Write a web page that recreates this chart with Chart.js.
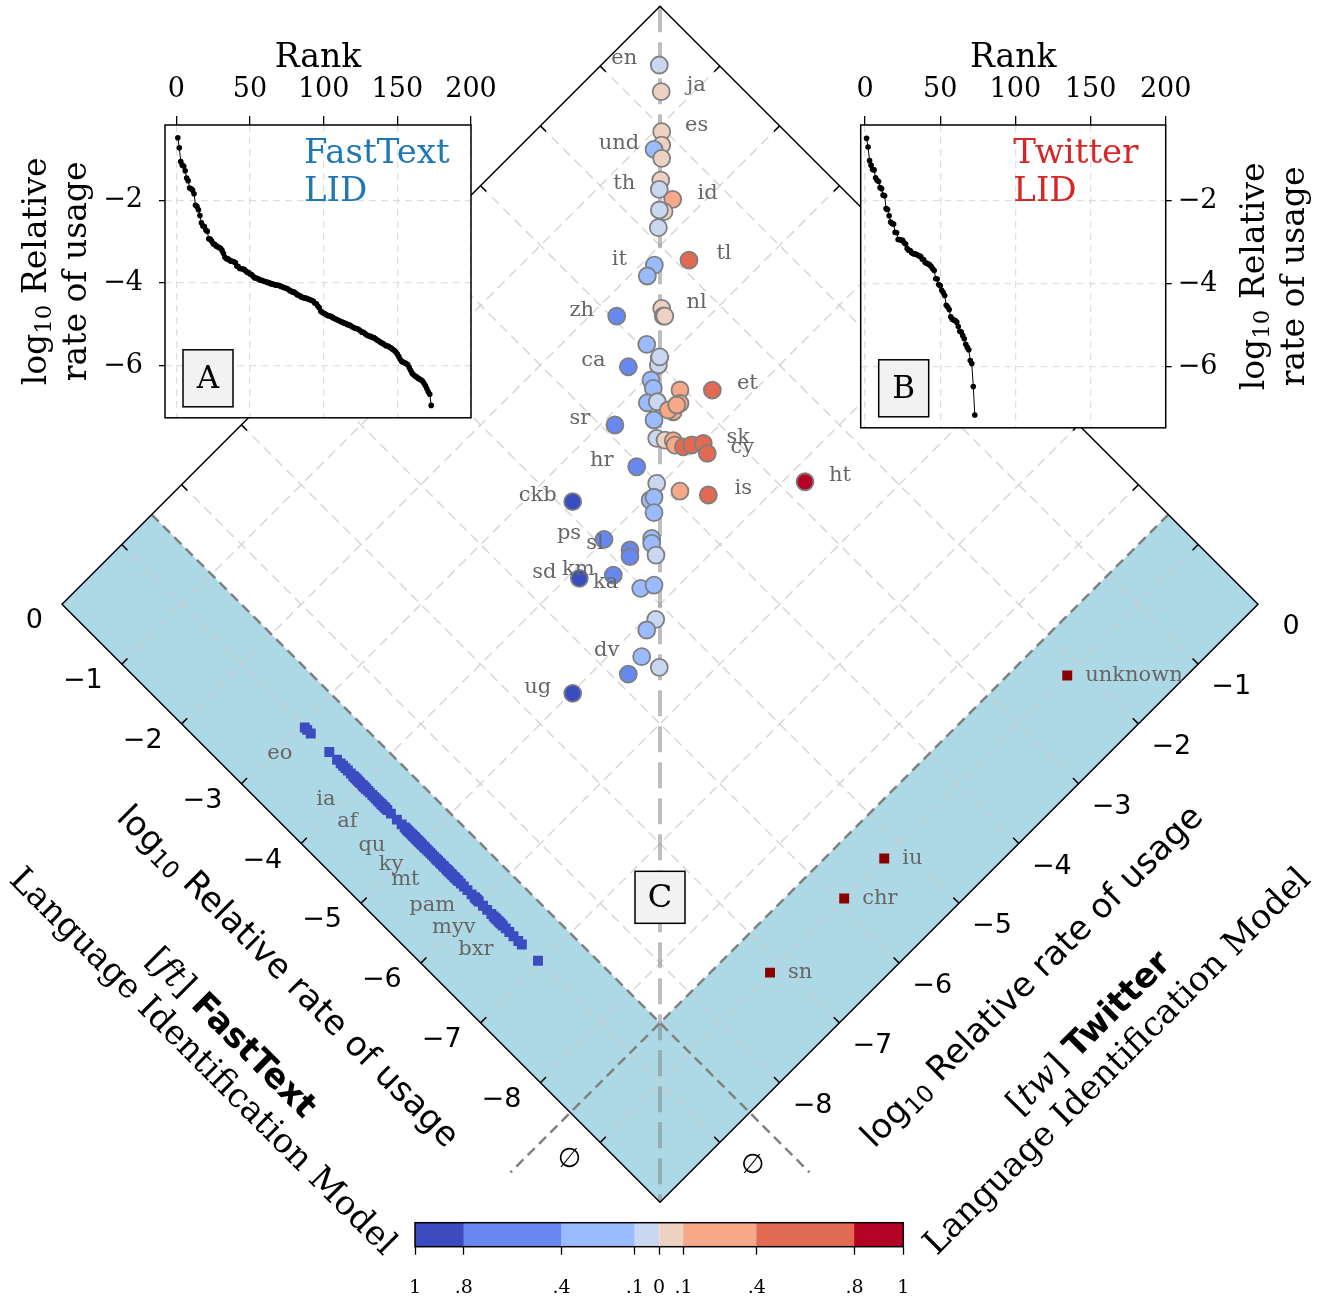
<!DOCTYPE html>
<html>
<head>
<meta charset="utf-8">
<title>FastText vs Twitter language identification</title>
<script src="https://cdn.jsdelivr.net/npm/chart.js@4.4.1/dist/chart.umd.min.js"></script>
<style>
  body { margin: 0; background: #fff; }
  #wrap { position: relative; width: 1328px; height: 1300px; overflow: hidden; }
  #wrap canvas { position: absolute; }
</style>
</head>
<body>
<div id="wrap">
  <canvas id="mainChart" width="1328" height="1300" style="left:0px;top:0px"></canvas>
  <canvas id="insetA" width="510" height="450" style="left:0px;top:0px"></canvas>
  <canvas id="insetB" width="488" height="450" style="left:840px;top:0px"></canvas>
  <canvas id="colorbar" width="560" height="90" style="left:380px;top:1210px"></canvas>
</div>
<script>
// log10 relative rate of usage

// languages reported by both models
const sharedCodes = ['en','ja','es','','und','','','th','id','','','',
  'it','','tl','zh','nl','','','','','','','ca',
  'et','','','','','','','','','','sr','',
  '','','','','','','sk','cy','hr','ht','','',
  'is','ckb','','','','ps','','','sl','','',
  'sd','km','ka','','','','dv','','','ug'];
const sharedFt = [-0.485,-0.724,-1.062,-1.174,-1.146,-1.285,-1.459,-1.524,-1.720,-1.751,-1.698,-1.837,
  -2.116,-2.149,-2.364,-2.228,-2.539,-2.617,-2.630,-2.715,-2.937,-2.985,-2.928,-2.749,
  -3.646,-3.375,-3.049,-3.138,-3.209,-3.284,-3.501,-3.487,-3.445,-3.473,-3.124,-3.409,
  -3.585,-3.669,-3.743,-3.794,-3.878,-3.933,-4.016,-4.133,-3.655,-5.188,-3.961,-4.220,
  -4.490,-3.412,-4.045,-4.055,-4.184,-3.989,-4.379,-4.421,-4.295,-4.351,-4.555,
  -4.108,-4.365,-4.705,-4.789,-5.090,-5.104,-5.285,-5.521,-5.318,-5.014];
const sharedTw = [-0.497,-0.704,-1.034,-1.146,-1.246,-1.257,-1.447,-1.536,-1.508,-1.684,-1.708,-1.865,
  -2.211,-2.361,-1.879,-2.952,-2.511,-2.562,-2.550,-2.937,-2.949,-3.013,-2.933,-3.279,
  -2.771,-3.041,-3.200,-3.250,-3.421,-3.329,-3.279,-3.152,-3.306,-3.194,-3.878,-3.509,
  -3.640,-3.584,-3.521,-3.543,-3.488,-3.403,-3.292,-3.342,-4.045,-2.763,-4.016,-3.886,
  -3.682,-4.872,-4.211,-4.155,-4.284,-4.925,-4.518,-4.560,-4.797,-4.853,-4.622,
  -5.457,-5.146,-5.028,-4.889,-5.161,-5.326,-5.591,-5.533,-5.848,-6.474];

// languages only FastText reports
const ftOnlyFt = [-3.06,-3.10,-3.16,-3.47,-3.60,
  -3.66,-3.70,-3.74,-3.78,-3.83,
  -3.87,-3.89,-3.91,-3.93,-3.95,-3.97,
  -3.99,-4.02,-4.03,-4.05,-4.06,-4.08,-4.09,
  -4.12,-4.15,-4.19,-4.22,-4.25,-4.28,-4.31,
  -4.34,-4.36,-4.39,-4.41,-4.44,
  -4.50,-4.60,-4.68,
  -4.73,-4.75,-4.77,-4.79,-4.81,-4.83,-4.85,-4.87,
  -4.89,-4.90,-4.92,-4.94,-4.95,-4.97,-4.98,-5.00,-5.02,
  -5.05,-5.07,-5.10,-5.13,-5.16,-5.19,-5.22,-5.25,
  -5.27,-5.29,-5.32,-5.34,-5.37,-5.39,-5.42,-5.44,-5.46,-5.48,
  -5.51,-5.53,-5.56,-5.58,-5.61,-5.63,
  -5.67,-5.72,-5.78,-5.85,
  -5.90,-5.91,-5.93,-5.95,
  -5.97,-6.04,-6.11,-6.18,
  -6.22,-6.25,-6.27,-6.30,-6.32,-6.34,
  -6.37,-6.42,-6.48,-6.55,
  -6.63,-6.69,-6.96];
const ftOnlyLabelCodes = ['eo','ia','af','qu','ky','mt','pam','myv','bxr'];
const ftOnlyLabelFt = [-3.06,-3.83,-4.19,-4.60,-4.92,-5.16,-5.61,-5.97,-6.34];

// languages only Twitter reports
const twOnlyCodes = ['unknown','iu','chr','sn'];
const twOnlyTw = [-2.19,-5.25,-5.92,-7.16];

// axes
const diamondTicks = [0,-1,-2,-3,-4,-5,-6,-7,-8,-9];
const colorbarTicks = [-1,-0.8,-0.4,-0.1,0,0.1,0.4,0.8,1];
const colorbarColors = ['#3b4cc0','#6788ee','#9abbff','#c9d7f0','#edd1c2','#f7a889','#e26952','#b40426'];

const LOW = -10;    // edge of the diamond
const CUT = -8.5;   // edge of the "not reported" band
const EMPTY = -9;   // where a missing rate is placed
const SERIF = 'DejaVu Serif';
const SANS = 'DejaVu Sans';

function minusText(v) { return v < 0 ? '\u2212' + Math.abs(v) : String(v); }
function divergence(ft, tw) { return Math.tanh((tw - ft) * Math.LN10 / 2); }
function binColor(m) {
  for (let i = 0; i < colorbarColors.length; i++) {
    if (m <= colorbarTicks[i + 1]) return colorbarColors[i];
  }
  return colorbarColors[colorbarColors.length - 1];
}

// the diamond is the (ft, tw) plane turned by 45 degrees
function pos(chart, ft, tw) {
  return [chart.scales.x.getPixelForValue(tw - ft), chart.scales.y.getPixelForValue(ft + tw)];
}
function seg(ctx, a, b) { ctx.beginPath(); ctx.moveTo(a[0], a[1]); ctx.lineTo(b[0], b[1]); ctx.stroke(); }
function poly(ctx, pts) {
  ctx.beginPath();
  pts.forEach((p, i) => i ? ctx.lineTo(p[0], p[1]) : ctx.moveTo(p[0], p[1]));
  ctx.closePath();
}
function unit(a, b) {
  const dx = b[0] - a[0], dy = b[1] - a[1], l = Math.hypot(dx, dy);
  return [dx / l, dy / l];
}
function drawRuns(ctx, runs, cx, cy, angle) {
  ctx.save();
  ctx.translate(cx, cy);
  ctx.rotate(angle);
  ctx.textAlign = 'left';
  ctx.textBaseline = 'middle';
  let w = 0;
  runs.forEach(r => { ctx.font = r.f; w += ctx.measureText(r.t).width; });
  let x = -w / 2;
  runs.forEach(r => { ctx.font = r.f; ctx.fillText(r.t, x, r.dy || 0); x += ctx.measureText(r.t).width; });
  ctx.restore();
}

const diamondPlugin = {
  id: 'diamond',
  beforeDatasetsDraw(chart) {
    const ctx = chart.ctx;
    const P = (ft, tw) => pos(chart, ft, tw);
    ctx.save();

    // bands where one model has no rate
    ctx.fillStyle = '#add8e6';
    poly(ctx, [P(0, LOW), P(0, CUT), P(LOW, CUT), P(LOW, LOW)]); ctx.fill();
    poly(ctx, [P(LOW, 0), P(CUT, 0), P(CUT, LOW), P(LOW, LOW)]); ctx.fill();

    // grid
    ctx.strokeStyle = 'rgba(205,205,205,0.8)';
    ctx.lineWidth = 1.5;
    ctx.setLineDash([10, 6]);
    for (let v = -1; v >= -9; v--) {
      seg(ctx, P(v, 0), P(v, LOW));
      seg(ctx, P(0, v), P(LOW, v));
    }

    // band boundaries
    ctx.strokeStyle = '#808080';
    ctx.lineWidth = 2.5;
    ctx.setLineDash([10, 6]);
    seg(ctx, P(0, CUT), P(-11, CUT));
    seg(ctx, P(CUT, 0), P(CUT, -11));

    // equal-rate diagonal
    ctx.strokeStyle = 'rgba(128,128,128,0.5)';
    ctx.lineWidth = 4;
    ctx.setLineDash([26, 10]);
    seg(ctx, P(0, 0), P(LOW, LOW));

    // frame and ticks
    ctx.setLineDash([]);
    ctx.strokeStyle = '#000';
    ctx.lineWidth = 1.5;
    poly(ctx, [P(0, 0), P(0, LOW), P(LOW, LOW), P(LOW, 0)]);
    ctx.stroke();
    diamondTicks.forEach(v => {
      if (v === 0) return;
      [[P(v, LOW), P(v, LOW + 1)], [P(0, v), P(-1, v)], [P(LOW, v), P(LOW + 1, v)], [P(v, 0), P(v, -1)]]
        .forEach(([a, b]) => {
          const u = unit(a, b);
          seg(ctx, a, [a[0] + u[0] * 8, a[1] + u[1] * 8]);
        });
    });

    ctx.fillStyle = '#000';
    ctx.font = '27px ' + SANS;
    ctx.textBaseline = 'middle';
    diamondTicks.forEach(v => {
      const txt = v === EMPTY ? '\u2205' : minusText(v);
      let a = P(v, LOW);
      ctx.textAlign = 'right';
      ctx.fillText(txt, a[0] - 19, a[1] + 17);
      a = P(LOW, v);
      ctx.textAlign = 'center';
      ctx.fillText(txt, a[0] + 33, a[1] + 23);
    });

    // axis titles
    const titles = (name, tag) => [
      [[{t: 'log', f: '34px ' + SANS}, {t: '10', f: '24px ' + SANS, dy: 8}, {t: ' Relative rate of usage', f: '34px ' + SANS}], 105],
      [[{t: '[', f: '34px ' + SERIF}, {t: tag, f: 'italic 34px ' + SERIF}, {t: '] ', f: '34px ' + SERIF}, {t: name, f: 'bold 34px ' + SANS}], 185],
      [[{t: 'Language Identification Model', f: '34px ' + SERIF}], 225]
    ];
    let a = P(-5, LOW), n = unit(P(-5, LOW + 1), a);
    titles('FastText', 'ft').forEach(([runs, d]) => drawRuns(ctx, runs, a[0] + n[0] * d, a[1] + n[1] * d, Math.PI / 4));
    a = P(LOW, -5); n = unit(P(LOW + 1, -5), a);
    titles('Twitter', 'tw').forEach(([runs, d]) => drawRuns(ctx, runs, a[0] + n[0] * d, a[1] + n[1] * d, -Math.PI / 4));

    ctx.restore();
  },
  afterDatasetsDraw(chart) {
    const ctx = chart.ctx;
    ctx.save();
    ctx.fillStyle = '#666';
    ctx.font = '21px ' + SERIF;
    ctx.textBaseline = 'middle';
    ctx.textAlign = 'center';

    const shared = chart.getDatasetMeta(0).data;
    sharedCodes.forEach((code, i) => {
      if (!code) return;
      const p = shared[i];
      const right = sharedTw[i] > sharedFt[i];
      ctx.fillText(code, p.x + (right ? 35 : -35), p.y - 6);
    });

    const ftOnly = chart.getDatasetMeta(1).data;
    ftOnlyLabelCodes.forEach((code, i) => {
      const p = ftOnly[ftOnlyFt.indexOf(ftOnlyLabelFt[i])];
      ctx.fillText(code, p.x - 25, p.y + 26);
    });

    const twOnly = chart.getDatasetMeta(2).data;
    ctx.textAlign = 'left';
    twOnlyCodes.forEach((code, i) => {
      const p = twOnly[i];
      ctx.fillText(code, p.x + 18, p.y);
    });

    // panel letter
    const c = pos(chart, -7.45, -7.45);
    ctx.fillStyle = '#f2f2f2';
    ctx.strokeStyle = '#000';
    ctx.lineWidth = 1.5;
    ctx.fillRect(c[0] - 25, c[1] - 26, 50, 52);
    ctx.strokeRect(c[0] - 25, c[1] - 26, 50, 52);
    ctx.fillStyle = '#000';
    ctx.font = '32px ' + SERIF;
    ctx.textAlign = 'center';
    ctx.fillText('C', c[0], c[1] + 1);
    ctx.restore();
  }
};

new Chart(document.getElementById('mainChart'), {
  type: 'scatter',
  data: {
    datasets: [
      {
        data: sharedFt.map((ft, i) => ({x: sharedTw[i] - ft, y: ft + sharedTw[i]})),
        pointRadius: 8.5,
        pointBackgroundColor: sharedFt.map((ft, i) => binColor(divergence(ft, sharedTw[i]))),
        pointBorderColor: '#7f7f7f',
        pointBorderWidth: 1.8
      },
      {
        data: ftOnlyFt.map(ft => ({x: EMPTY - ft, y: ft + EMPTY})),
        pointStyle: 'rect',
        pointRadius: 7,
        pointBackgroundColor: '#3b4cc0',
        pointBorderWidth: 0
      },
      {
        data: twOnlyTw.map(tw => ({x: tw - EMPTY, y: EMPTY + tw})),
        pointStyle: 'rect',
        pointRadius: 7,
        pointBackgroundColor: '#8b0000',
        pointBorderWidth: 0
      }
    ]
  },
  options: {
    responsive: false,
    animation: false,
    events: [],
    layout: { autoPadding: false, padding: { left: 2.2, right: 10.2, top: 6.3, bottom: 8 } },
    plugins: { legend: { display: false }, tooltip: { enabled: false } },
    scales: {
      x: { type: 'linear', min: -11, max: 11, display: false },
      y: { type: 'linear', min: -21.5, max: 0, display: false }
    }
  },
  plugins: [diamondPlugin]
});

// rank / rate insets
function insetDecor(o) {
  return {
    id: 'insetDecor',
    beforeDraw(chart) {
      const a = chart.chartArea, ctx = chart.ctx;
      ctx.save();
      ctx.fillStyle = '#fff';
      ctx.fillRect(a.left, a.top, a.right - a.left, a.bottom - a.top);
      ctx.restore();
    },
    afterDraw(chart) {
      const a = chart.chartArea, ctx = chart.ctx;
      ctx.save();
      ctx.strokeStyle = '#000';
      ctx.lineWidth = 1.5;
      ctx.strokeRect(a.left, a.top, a.right - a.left, a.bottom - a.top);

      ctx.fillStyle = '#000';
      ctx.font = '33px ' + SERIF;
      ctx.textAlign = 'center';
      ctx.textBaseline = 'alphabetic';
      ctx.fillText('Rank', (a.left + a.right) / 2, 67);

      const cy = (a.top + a.bottom) / 2;
      drawRuns(ctx, [{t: 'log', f: '33px ' + SERIF}, {t: '10', f: '23px ' + SERIF, dy: 8}, {t: ' Relative', f: '33px ' + SERIF}], o.yTitleX, cy, -Math.PI / 2);
      drawRuns(ctx, [{t: 'rate of usage', f: '33px ' + SERIF}], o.yTitleX + 40, cy, -Math.PI / 2);

      ctx.fillStyle = o.color;
      ctx.font = '34px ' + SERIF;
      ctx.textAlign = 'left';
      ctx.fillText(o.name, a.left + o.nameDx, 163);
      ctx.fillText('LID', a.left + o.nameDx, 201);

      ctx.fillStyle = '#f2f2f2';
      ctx.fillRect(a.left + 18, a.bottom - 68, 50, 57);
      ctx.strokeRect(a.left + 18, a.bottom - 68, 50, 57);
      ctx.fillStyle = '#000';
      ctx.font = '31px ' + SERIF;
      ctx.textAlign = 'center';
      ctx.textBaseline = 'middle';
      ctx.fillText(o.letter, a.left + 43, a.bottom - 38);
      ctx.restore();
    }
  };
}

function makeInset(id, values, o) {
  const sorted = values.slice().sort((p, q) => q - p);
  const axisGrid = { color: '#e0e0e0', lineWidth: 1.3, tickColor: '#000', tickWidth: 1.3 };
  return new Chart(document.getElementById(id), {
    type: 'scatter',
    data: {
      datasets: [{
        data: sorted.map((v, i) => ({x: i + 1, y: v})),
        showLine: true,
        borderColor: '#000',
        borderWidth: 1,
        pointRadius: 2.8,
        pointBackgroundColor: '#000',
        pointBorderWidth: 0
      }]
    },
    options: {
      responsive: false,
      animation: false,
      events: [],
      layout: { autoPadding: false, padding: o.padding },
      plugins: { legend: { display: false }, tooltip: { enabled: false } },
      scales: {
        x: {
          type: 'linear', position: 'top', min: o.xMin, max: 200,
          afterFit: s => { s.height = 90; },
          ticks: { stepSize: 50, includeBounds: false, maxRotation: 0, color: '#000', padding: 10, font: { family: SERIF, size: 27 } },
          grid: Object.assign({ tickLength: 9 }, axisGrid),
          border: { display: false, dash: [7, 5] }
        },
        y: {
          type: 'linear', position: o.yPos, min: o.yMin, max: -0.175,
          afterFit: s => { s.width = 65; },
          ticks: { stepSize: 2, includeBounds: false, color: '#000', padding: o.yPad, font: { family: SERIF, size: 27 }, callback: v => minusText(v) },
          grid: Object.assign({ tickLength: 6 }, axisGrid),
          border: { display: false, dash: [7, 5] }
        }
      }
    },
    plugins: [insetDecor(o)]
  });
}

makeInset('insetA', sharedFt.concat(ftOnlyFt), {
  padding: { left: 100, top: 35, right: 39, bottom: 21 },
  xMin: -7.7, yMin: -7.26, yPos: 'left', yPad: 16,
  yTitleX: 37, name: 'FastText', nameDx: 139, color: '#1f77b4', letter: 'A'
});
makeInset('insetB', sharedTw.concat(twOnlyTw), {
  padding: { left: 20.7, top: 35, right: 97.3, bottom: 21 },
  xMin: -2.9, yMin: -7.47, yPos: 'right', yPad: 6,
  yTitleX: 415, name: 'Twitter', nameDx: 152.6, color: '#d62728', letter: 'B'
});

// colour bar
const outline = {
  id: 'outline',
  afterDraw(chart) {
    const a = chart.chartArea, ctx = chart.ctx;
    ctx.save();
    ctx.strokeStyle = '#000';
    ctx.lineWidth = 1.5;
    ctx.strokeRect(a.left, a.top, a.right - a.left, a.bottom - a.top);
    ctx.restore();
  }
};
function colorbarText(v) {
  if (v === 0) return '0';
  const a = Math.abs(v);
  return a === 1 ? '1' : String(a).replace('0.', '.');
}
new Chart(document.getElementById('colorbar'), {
  type: 'bar',
  data: {
    labels: ['cb'],
    datasets: [{
      data: colorbarColors.map((c, i) => ({x: [colorbarTicks[i], colorbarTicks[i + 1]], y: 'cb'})),
      backgroundColor: colorbarColors,
      borderWidth: 0,
      barPercentage: 1,
      categoryPercentage: 1
    }]
  },
  options: {
    indexAxis: 'y',
    responsive: false,
    animation: false,
    events: [],
    layout: { autoPadding: false, padding: { left: 35, right: 36.7, top: 12.7, bottom: 0 } },
    plugins: { legend: { display: false }, tooltip: { enabled: false } },
    scales: {
      x: {
        type: 'linear', min: -1, max: 1,
        afterFit: s => { s.height = 53.3; },
        afterBuildTicks: s => { s.ticks = colorbarTicks.map(v => ({value: v})); },
        ticks: { autoSkip: false, maxRotation: 0, color: '#000', padding: 22, font: { family: SERIF, size: 19 }, callback: v => colorbarText(v) },
        grid: { drawOnChartArea: false, tickLength: 8, tickColor: '#000', tickWidth: 1.3 },
        border: { display: false }
      },
      y: { display: false }
    }
  },
  plugins: [outline]
});
</script>
</body>
</html>
